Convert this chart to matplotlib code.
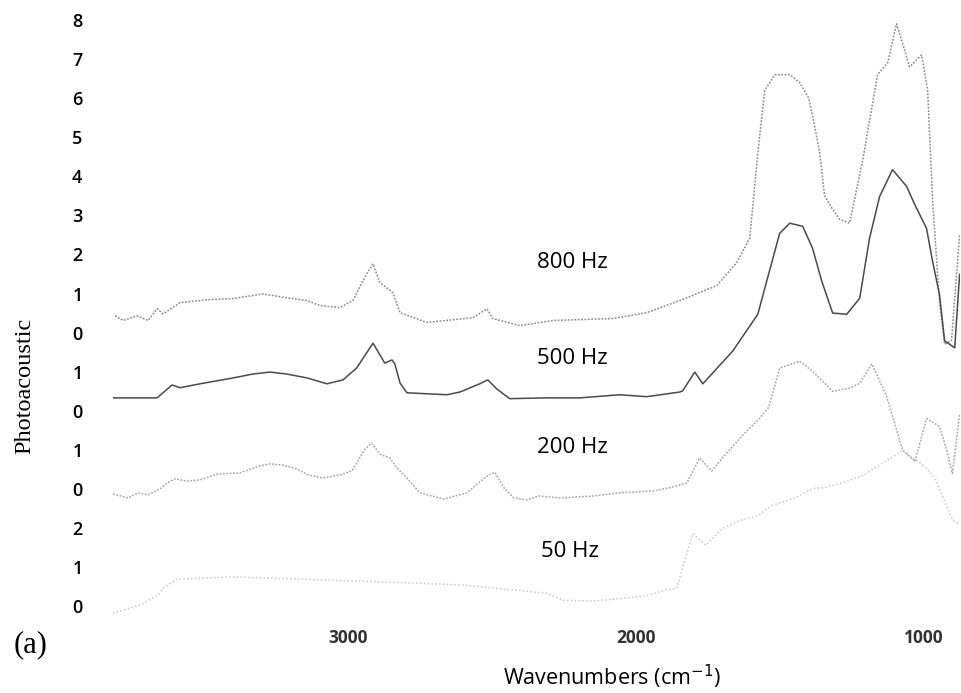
import matplotlib
matplotlib.use('Agg')
from matplotlib import pyplot as plt

# spectra (wavenumber in cm-1, signal on each trace's own scale)
wn_800 = [3809, 3781, 3733, 3694, 3663, 3642, 3583, 3490, 3399, 3295, 3212, 3142, 3097, 3028,
          2983, 2934, 2913, 2889, 2844, 2819, 2726, 2566, 2517, 2497, 2403, 2288, 2080, 1962,
          1847, 1719, 1649, 1604, 1576, 1552, 1517, 1465, 1431, 1399, 1379, 1361, 1344, 1320,
          1292, 1257, 1212, 1160, 1125, 1094, 1073, 1049, 1007, 986, 969, 945, 927, 903, 875]
sig_800 = [0.43, 0.31, 0.43, 0.31, 0.61, 0.48, 0.77, 0.84, 0.87, 0.99, 0.89, 0.82, 0.69, 0.64,
           0.82, 1.51, 1.76, 1.28, 1.02, 0.51, 0.26, 0.38, 0.61, 0.36, 0.18, 0.31, 0.36, 0.51,
           0.82, 1.20, 1.79, 2.42, 4.6, 6.2, 6.6, 6.6, 6.4, 6.0, 5.3, 4.6, 3.5, 3.2,
           2.9, 2.8, 4.4, 6.6, 6.9, 7.9, 7.4, 6.8, 7.1, 6.2, 3.4, 0.8, -0.3, -0.2, 2.5]

wn_500 = [3816, 3663, 3611, 3583, 3514, 3399, 3330, 3271, 3212, 3142, 3073, 3017, 2969, 2913,
          2872, 2847, 2837, 2819, 2795, 2656, 2611, 2542, 2514, 2483, 2438, 2309, 2194, 2056,
          1962, 1847, 1837, 1795, 1767, 1663, 1576, 1545, 1500, 1465, 1420, 1386, 1354, 1316,
          1267, 1222, 1188, 1153, 1108, 1059, 1031, 990, 969, 945, 927, 892, 875]
sig_500 = [0.33, 0.33, 0.66, 0.59, 0.69, 0.84, 0.94, 0.99, 0.94, 0.84, 0.69, 0.79, 1.10, 1.73,
           1.22, 1.30, 1.20, 0.71, 0.46, 0.41, 0.48, 0.69, 0.79, 0.56, 0.31, 0.33, 0.33, 0.41,
           0.36, 0.48, 0.51, 0.99, 0.69, 1.53, 2.47, 3.32, 4.54, 4.80, 4.72, 4.16, 3.32, 2.50,
           2.47, 2.88, 4.41, 5.48, 6.17, 5.74, 5.28, 4.67, 3.83, 2.98, 1.79, 1.61, 3.49]

wn_200 = [3816, 3764, 3729, 3694, 3653, 3628, 3601, 3559, 3514, 3455, 3375, 3305, 3271, 3226,
          3177, 3139, 3087, 3028, 2986, 2941, 2917, 2889, 2854, 2830, 2795, 2750, 2667, 2587,
          2517, 2490, 2458, 2424, 2378, 2337, 2264, 2146, 2056, 1938, 1882, 1823, 1778, 1736,
          1684, 1625, 1569, 1538, 1500, 1431, 1386, 1351, 1316, 1257, 1222, 1180, 1130, 1073,
          1030, 990, 945, 920, 900, 875]
sig_200 = [-0.13, -0.23, -0.10, -0.15, 0.00, 0.15, 0.26, 0.20, 0.23, 0.38, 0.41, 0.59, 0.64, 0.61,
           0.51, 0.36, 0.28, 0.36, 0.46, 1.02, 1.17, 0.89, 0.79, 0.54, 0.28, -0.10, -0.26, -0.10,
           0.33, 0.43, 0.03, -0.23, -0.28, -0.18, -0.23, -0.18, -0.10, -0.05, 0.03, 0.15, 0.79, 0.46,
           0.92, 1.40, 1.81, 2.09, 3.09, 3.27, 3.01, 2.76, 2.50, 2.58, 2.70, 3.2, 2.4, 1.0,
           0.7, 1.8, 1.6, 1.0, 0.4, 1.9]

wn_50 = [3816, 3722, 3660, 3642, 3594, 3400, 3200, 3000, 2800, 2597, 2309, 2250, 2146, 2076,
         2007, 1955, 1900, 1858, 1802, 1757, 1698, 1639, 1576, 1524, 1444, 1385, 1340, 1281,
         1212, 1073, 1000, 962, 899, 875]
sig_50 = [-0.18, 0.03, 0.28, 0.46, 0.69, 0.75, 0.70, 0.65, 0.60, 0.54, 0.33, 0.15, 0.13, 0.18,
          0.23, 0.28, 0.41, 0.46, 1.86, 1.56, 1.99, 2.19, 2.32, 2.58, 2.78, 3.01, 3.04, 3.16,
          3.34, 3.98, 3.6, 3.3, 2.2, 2.1]

labels = ['800 Hz', '500 Hz', '200 Hz', '50 Hz']
offsets = [7, 5, 3, 0]
colors = ['#8c8c8c', '#4a4a4a', '#a8a8a8', '#c8c8c8']
styles = [(0, (1.2, 1)), '-', (0, (1.2, 1)), (0, (1, 1.5))]

y_ticks = list(range(16))
y_tick_labels = ['0', '1', '2', '0', '1', '0', '1', '0', '1', '2', '3', '4', '5', '6', '7', '8']
x_ticks = [3000, 2000, 1000]

fig = plt.figure(figsize=(9.62, 6.93), dpi=100)
ax = fig.add_axes([0.1175, 0.105, 0.880, 0.869])

series = [(wn_800, sig_800), (wn_500, sig_500), (wn_200, sig_200), (wn_50, sig_50)]
for (x, y), off, c, ls in zip(series, offsets, colors, styles):
    ax.plot(x, [v + off for v in y], color=c, lw=1.1, ls=ls)

# frequency labels sit at fixed spots in the plot
label_pos = [(2219, 8.8), (2219, 6.35), (2219, 4.06), (2230, 1.40)]
for txt, (tx, ty) in zip(labels, label_pos):
    ax.text(tx, ty, txt, ha='center', va='center', fontsize=16,
            family=['Open Sans', 'DejaVu Sans'], color='black')

ax.set_xlim(3816, 875)
ax.set_ylim(-0.36, 15.05)
ax.set_yticks(y_ticks)
ax.set_yticklabels(y_tick_labels, family='Open Sans', fontsize=13, fontweight='semibold')
ax.set_xticks(x_ticks)
ax.set_xticklabels([str(t) for t in x_ticks], family='Open Sans', fontsize=12.5,
                   fontweight='bold', color='#333333')
ax.tick_params(axis='y', length=0, pad=22)
ax.tick_params(axis='x', length=0, pad=6)
for s in ax.spines.values():
    s.set_visible(False)

fig.text(0.026, 0.443, 'Photoacoustic', rotation=90, ha='center', va='center',
         family='Liberation Serif', fontsize=17.5)
fig.text(0.032, 0.07, '(a)', ha='center', va='center', family='Liberation Serif', fontsize=22)
fig.text(0.636, 0.023, 'Wavenumbers (cm$^{-1}$)', ha='center', va='center',
         family='Open Sans', fontsize=15.5)

fig.savefig('out.png', dpi=100)
